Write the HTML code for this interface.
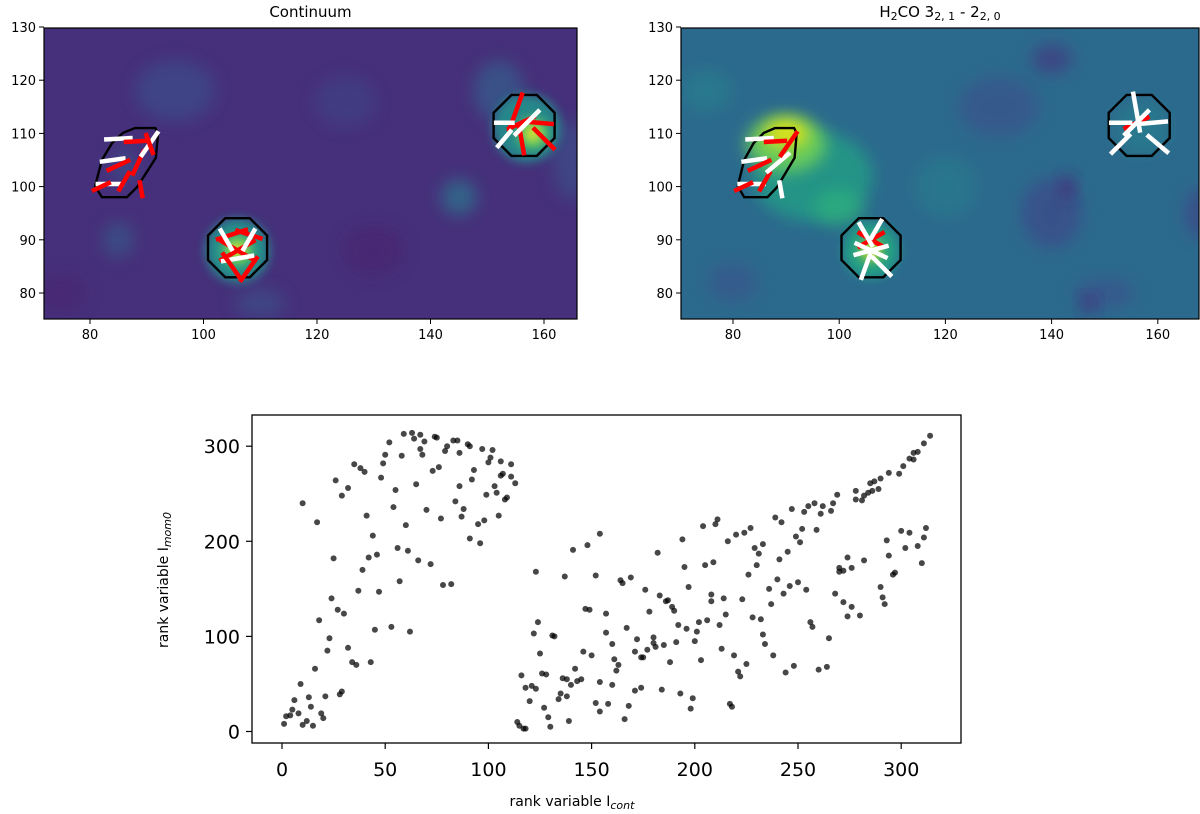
<!DOCTYPE html>
<html><head><meta charset="utf-8"><style>
html,body{margin:0;padding:0;background:#fff;}
svg{display:block;font-family:"DejaVu Sans","Liberation Sans",sans-serif;}
</style></head><body>
<svg id="fig" width="1200" height="814" viewBox="0 0 1200 814" xmlns="http://www.w3.org/2000/svg">
<defs>
<filter id="blur8" x="-50%" y="-50%" width="200%" height="200%"><feGaussianBlur stdDeviation="8"/></filter>
<filter id="blur5" x="-50%" y="-50%" width="200%" height="200%"><feGaussianBlur stdDeviation="5"/></filter>
<clipPath id="clipL"><rect x="44" y="28" width="533" height="291"/></clipPath>
<clipPath id="clipR"><rect x="681" y="28" width="518" height="291"/></clipPath>
</defs>
<g id="panelL"></g>
<g id="panelR"></g>
<g id="scatter"></g>
</svg>
<script>
// ---- scatter data ----
const rankCont = [59,63,67,64,69,74,75,52,67,68,80,79,83,85,86,90,91,97,102,101,100,106,111,50,49,58,35,38,40,48,73,76,93,92,106,107,111,113,26,32,29,65,55,86,103,99,104,109,108,10,84,54,70,88,87,77,105,41,17,98,95,60,44,91,96,56,61,42,46,25,66,72,39,57,78,82,37,47,24,27,30,18,45,53,62,23,22,32,34,36,43,16,9,6,13,21,28,29,5,14,19,2,4,8,1,10,12,15,20,
314,311,308,306,306,304,301,299,294,290,287,285,289,286,284,282,281,278,278,269,267,266,262,261,258,255,253,247,242,239,259,252,249,251,245,241,227,224,220,216,233,229,231,230,226,211,210,204,194,182,209,205,195,197,154,148,141,123,137,152,164,169,165,176,183,186,187,189,190,178,157,147,149,124,122,131,132,125,126,128,116,118,121,123,120,127,129,130,114,115,117,118,139,136,138,140,142,143,145,146,150,134,135,138,152,154,158,154,160,162,163,161,160,157,167,172,171,174,175,177,180,180,181,185,188,191,192,196,200,201,202,206,212,215,214,208,208,223,228,232,236,237,240,243,246,250,254,233,234,238,225,221,222,219,213,203,199,198,193,184,174,171,168,166,217,218,244,248,260,264,265,256,257,268,272,276,274,280,270,270,272,274,276,282,290,291,292,294,293,296,297,300,304,302,308,311,312,310];
const rankMom0 = [313,314,312,308,305,310,309,304,297,291,300,295,306,306,293,302,300,297,296,288,283,284,281,291,282,290,281,277,273,267,274,278,275,265,269,271,268,261,264,256,248,260,254,258,258,249,251,246,244,240,242,236,233,234,226,224,227,227,220,222,218,217,206,203,198,193,190,183,186,182,180,176,170,158,154,155,148,147,140,128,124,117,107,110,105,98,85,88,73,70,73,66,50,33,36,37,39,42,23,26,19,16,17,19,8,7,11,6,14,
311,303,294,293,286,287,279,271,272,266,263,261,255,253,251,248,243,244,253,249,240,232,237,229,240,237,231,234,220,225,212,213,205,199,189,181,214,209,207,200,197,193,187,175,165,223,218,216,202,188,178,175,173,152,208,196,191,168,163,164,159,162,156,149,143,137,138,131,127,126,124,129,128,115,103,101,100,82,61,60,59,46,48,45,32,25,15,5,10,6,3,3,11,56,55,49,66,53,55,84,80,34,40,37,30,21,29,52,49,64,70,76,92,104,109,97,84,78,78,86,93,99,89,91,73,94,112,108,95,105,115,117,112,123,140,144,137,139,120,118,150,134,160,145,153,157,149,102,92,80,71,63,58,80,87,75,35,24,40,44,46,43,27,13,29,26,62,69,65,68,98,115,110,145,136,131,121,122,172,168,169,183,172,180,152,141,134,185,201,165,167,211,209,193,195,204,214,177];
const xTicks = [0,50,100,150,200,250,300];
const yTicks = [0,100,200,300];

// ---- heatmap axes ticks ----
const mapXTicks = [80,100,120,140,160];
const mapYTicks = [80,90,100,110,120,130];

const NS = "http://www.w3.org/2000/svg";
function mk(tag, attrs, parent, text){
  const e = document.createElementNS(NS, tag);
  for (const k in attrs) e.setAttribute(k, attrs[k]);
  if (text !== undefined) e.textContent = text;
  parent.appendChild(e);
  return e;
}

// scatter axes
const sx = v => 282 + 2.064 * v;
const sy = v => 731.5 - 0.951 * v;
const sc = document.getElementById('scatter');
for (let i = 0; i < rankCont.length; i++) {
  const c = mk('circle', {cx: sx(rankCont[i]), cy: sy(rankMom0[i]), r: 3, fill: 'rgba(0,0,0,0.72)'}, sc);
  
  
}
const frame = mk('rect', {x: 252, y: 415, width: 709, height: 328, fill: 'none', stroke: '#000', 'stroke-width': 1.3}, sc);


xTicks.forEach(t => {
  mk('line', {x1: sx(t), x2: sx(t), y1: 743, y2: 749, stroke: '#000', 'stroke-width': 1.2}, sc);
  const tl = mk('text', {x: sx(t), y: 776, 'font-size': 19, 'text-anchor': 'middle'}, sc, String(t));
  
  
});
yTicks.forEach(t => {
  mk('line', {x1: 246, x2: 252, y1: sy(t), y2: sy(t), stroke: '#000', 'stroke-width': 1.2}, sc);
  const tl = mk('text', {x: 240, y: sy(t) + 7, 'font-size': 19, 'text-anchor': 'end'}, sc, String(t));
  
  
});
const xl = mk('text', {x: 572, y: 806, 'font-size': 14, 'text-anchor': 'middle'}, sc);
xl.innerHTML = 'rank variable I<tspan font-size="11" font-style="italic" dy="3">cont</tspan>';


const yl = mk('text', {transform: 'translate(168,580) rotate(-90)', 'font-size': 14, 'text-anchor': 'middle'}, sc);
yl.innerHTML = 'rank variable I<tspan font-size="11" font-style="italic" dy="3">mom0</tspan>';



// ---- heatmap panels ----
function panel(id, clip, x0, y0, w, h, px80, pxPer, title, bg, blobs, vecs) {
  const g = document.getElementById(id);
  const X = v => px80 + (v - 80) * pxPer;
  const Y = v => 293 - (v - 80) * 5.32;
  const img = mk('g', {'clip-path': 'url(#' + clip + ')'}, g);
  
  
  mk('rect', {x: x0, y: y0, width: w, height: h, fill: bg}, img);
  blobs.forEach(b => {
    mk('ellipse', {cx: X(b[0]), cy: Y(b[1]), rx: b[2], ry: b[3], fill: b[4], opacity: b[5], filter: 'url(#' + (b[6] || 'blur8') + ')'}, img);
  });
  const reg = mk('g', {fill: 'none', stroke: '#000', 'stroke-width': 2.4}, img);
  
  
  function octo(cx, cy, r) {
    let p = [];
    for (let i = 0; i < 8; i++) { const a = Math.PI / 8 + i * Math.PI / 4; p.push((X(cx) + r * Math.cos(a)).toFixed(1) + ',' + (Y(cy) + r * Math.sin(a)).toFixed(1)); }
    return p.join(' ');
  }
  mk('polygon', {points: octo(106, 88.5, 32)}, reg);
  mk('polygon', {points: octo(156.5, 111.5, 33)}, reg);
  const ell = [[87.9,111],[91.5,111],[92,110.1],[91.6,105.4],[88.3,99.9],[86.5,98],[82.1,98],[80.9,100.1],[82.1,105],[83.9,108.2],[85.8,110.1]];
  mk('polygon', {points: ell.map(p => X(p[0]).toFixed(1) + ',' + Y(p[1]).toFixed(1)).join(' ')}, reg);
  const vg = mk('g', {'stroke-width': 4.5, 'stroke-linecap': 'butt'}, img);
  
  
  vecs.forEach(v => {
    const a = v[2] * Math.PI / 180, L = v[3] * 1.3;
    const cx = X(v[0]), cy = Y(v[1]);
    mk('line', {x1: cx - L * Math.cos(a), y1: cy - L * Math.sin(a), x2: cx + L * Math.cos(a), y2: cy + L * Math.sin(a), stroke: v[4]}, vg);
  });
  mk('rect', {x: x0, y: y0, width: w, height: h, fill: 'none', stroke: '#000', 'stroke-width': 1.2}, g);
  mapXTicks.forEach(t => {
    mk('line', {x1: X(t), x2: X(t), y1: y0 + h, y2: y0 + h + 5, stroke: '#000'}, g);
    const tl = mk('text', {x: X(t), y: y0 + h + 20, 'font-size': 13, 'text-anchor': 'middle'}, g, String(t));
    
    
  });
  mapYTicks.forEach(t => {
    mk('line', {x1: x0 - 5, x2: x0, y1: Y(t), y2: Y(t), stroke: '#000'}, g);
    const tl = mk('text', {x: x0 - 8, y: Y(t) + 5, 'font-size': 13, 'text-anchor': 'end'}, g, String(t));
    
    
  });
  const tt = mk('text', {x: x0 + w / 2, y: 17, 'font-size': 15, 'text-anchor': 'middle'}, g);
  tt.innerHTML = title;
  
  
}

const vecsL = [
 [85,109,-3,11,'#fff'],[88,108.5,-3,9,'#f00'],[84,105,-8,10,'#fff'],[85,104,-25,10,'#f00'],
 [83.5,100.5,0,11,'#fff'],[82,100,-25,8,'#f00'],[86,101,-60,9,'#f00'],[88.5,104.5,-65,11,'#f00'],
 [90.5,108,-55,12,'#fff'],[90.5,108,70,9,'#f00'],[89,99.5,80,7,'#f00'],
 [106,88,-30,16,'#f00'],[106,88,30,16,'#f00'],[105,91,-18,13,'#f00'],[108,91,18,11,'#f00'],
 [104,90,60,10,'#fff'],[108,90,-60,10,'#fff'],[106,86.5,-10,13,'#fff'],[105,85,55,13,'#f00'],[108,84.5,-55,12,'#f00'],
 [156,112,-25,12,'#f00'],[159,112,5,12,'#f00'],[156,109,80,13,'#f00'],[155,114,-70,16,'#f00'],[160,109,45,12,'#f00'],
 [157,112,-45,14,'#fff'],[153,109,-50,9,'#fff'],[153,112,0,8,'#fff']
];
const vecsR = [
 [85,109,-3,11,'#fff'],[88,108.5,-3,9,'#f00'],[84,105,-8,10,'#fff'],[85,104,-25,10,'#f00'],
 [83.5,100.5,0,11,'#fff'],[82,100,-25,8,'#f00'],[86,101,-60,9,'#f00'],[88.5,104.5,-40,12,'#fff'],
 [90.5,108,-55,12,'#f00'],[89,99.5,80,7,'#fff'],
 [106,90,-30,12,'#f00'],[106,90,30,12,'#f00'],[106,88,25,14,'#fff'],[106,88,-15,14,'#fff'],
 [105,91,60,11,'#fff'],[107,92,-60,9,'#fff'],[105,85,-70,11,'#fff'],[108,85,45,11,'#fff'],
 [156,112,-25,11,'#f00'],[156,112,-45,14,'#fff'],[156,114,80,16,'#fff'],[159,112,-5,12,'#fff'],
 [153,112,0,9,'#fff'],[153,108,-45,11,'#fff'],[160,108,40,11,'#fff']
];

panel('panelL', 'clipL', 44, 28, 533, 291, 90, 5.675, 'Continuum', '#46307b', [
  [95,118,40,30,'#3e4a89',0.8],[125,116,30,25,'#3e4a89',0.5],[152,118,25,30,'#31688e',0.6],
  [145,98,18,18,'#2a788e',0.7],[85,90,15,18,'#31688e',0.5],[110,78,25,15,'#3b528b',0.6],
  [165,105,20,40,'#3b528b',0.6],[130,88,30,25,'#482070',0.6],[75,80,25,20,'#482070',0.5],
  [106,88,32,32,'#21918c',0.95,'blur5'],[106,88,16,16,'#5ec962',0.95,'blur5'],[106,88,7,7,'#fde725',0.95,'blur5'],
  [157,111,34,34,'#21918c',0.9,'blur5'],[158,110,16,16,'#5ec962',0.95,'blur5'],[158,110,7,7,'#fde725',0.95,'blur5'],
  [86,104,14,18,'#3b528b',0.6]
], vecsL);

panel('panelR', 'clipR', 681, 28, 518, 291, 733, 5.31, 'H<tspan font-size="11" dy="3">2</tspan><tspan dy="-3">CO 3</tspan><tspan font-size="11" dy="3">2, 1</tspan><tspan dy="-3"> - 2</tspan><tspan font-size="11" dy="3">2, 0</tspan>', '#2c6a8d', [
  [130,115,40,30,'#3b528b',0.7],[140,95,30,35,'#3e4a89',0.7],[140,124,20,15,'#46307e',0.6],
  [143,100,8,12,'#482878',0.7],[150,80,30,15,'#3b528b',0.7],[147,78,8,8,'#482878',0.8],
  [168,95,15,25,'#3e4a89',0.8],[75,118,25,20,'#26828e',0.6],[120,100,30,30,'#26828e',0.5],
  [95,102,60,45,'#21a385',0.75],[90,108,40,28,'#6ccd5a',0.95],[90,110,22,14,'#e2e418',0.95],
  [100,96,25,18,'#2fb47c',0.7],[106,88,28,28,'#22a884',0.85,'blur5'],[106,88,11,11,'#bddf26',0.95,'blur5'],
  [157,111,26,26,'#26828e',0.6],[80,82,25,20,'#3b528b',0.6]
], vecsR);
</script>
</body></html>
